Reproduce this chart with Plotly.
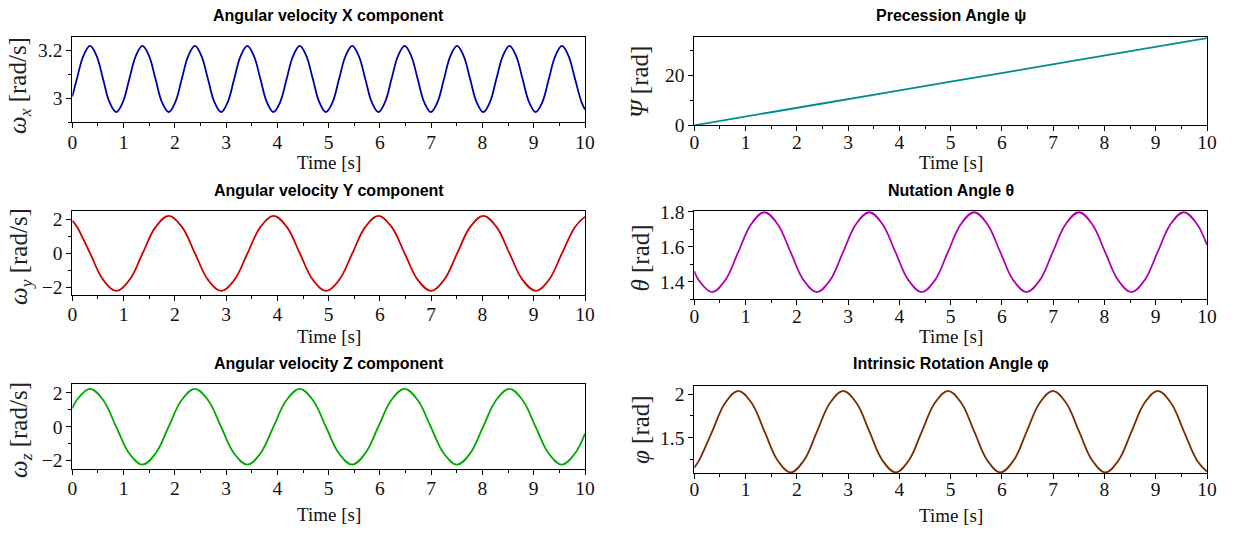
import plotly.graph_objects as go

# ---------------- data ----------------
T_WX = [0, 0.089, 0.217, 0.345, 0.473, 0.600, 0.728, 0.856, 0.984, 1.112, 1.240, 1.368, 1.496, 1.623,
        1.751, 1.879, 2.007, 2.135, 2.263, 2.391, 2.518, 2.646, 2.774, 2.902, 3.030, 3.157, 3.285,
        3.413, 3.541, 3.669, 3.797, 3.925, 4.052, 4.180, 4.308, 4.436, 4.564, 4.692, 4.820, 4.948,
        5.075, 5.203, 5.331, 5.459, 5.587, 5.715, 5.843, 5.970, 6.098, 6.226, 6.354, 6.482, 6.610,
        6.737, 6.865, 6.993, 7.121, 7.249, 7.376, 7.504, 7.632, 7.760, 7.888, 8.016, 8.144, 8.271,
        8.399, 8.527, 8.655, 8.783, 8.911, 9.039, 9.166, 9.294, 9.422, 9.550, 9.678, 9.806, 9.934, 10]
OMEGA_X = [3.007,
           3.080, 3.177, 3.218, 3.177, 3.080, 2.983, 2.943, 2.983,
           3.080, 3.177, 3.218, 3.177, 3.080, 2.983, 2.943, 2.983,
           3.080, 3.177, 3.218, 3.177, 3.080, 2.983, 2.943, 2.983,
           3.080, 3.177, 3.218, 3.177, 3.080, 2.983, 2.943, 2.983,
           3.080, 3.177, 3.218, 3.177, 3.080, 2.983, 2.943, 2.983,
           3.080, 3.177, 3.218, 3.177, 3.080, 2.983, 2.943, 2.983,
           3.080, 3.177, 3.218, 3.177, 3.080, 2.983, 2.943, 2.983,
           3.080, 3.177, 3.218, 3.177, 3.080, 2.983, 2.943, 2.983,
           3.080, 3.177, 3.218, 3.177, 3.080, 2.983, 2.943, 2.983,
           3.080, 3.177, 3.218, 3.177, 3.080, 2.983,
           2.953]

T_WY = [0, 0.093, 0.348, 0.604, 0.859, 1.115, 1.371, 1.626, 1.882, 2.138, 2.393, 2.649, 2.905, 3.160,
        3.416, 3.671, 3.927, 4.183, 4.438, 4.694, 4.950, 5.205, 5.461, 5.716, 5.972, 6.228, 6.483,
        6.739, 6.995, 7.250, 7.506, 7.762, 8.017, 8.273, 8.528, 8.784, 9.040, 9.295, 9.551, 9.806, 10]
OMEGA_Y = [1.92,
           1.549, 0.0, -1.549, -2.19, -1.549, 0.0, 1.549, 2.19,
           1.549, 0.0, -1.549, -2.19, -1.549, 0.0, 1.549, 2.19,
           1.549, 0.0, -1.549, -2.19, -1.549, 0.0, 1.549, 2.19,
           1.549, 0.0, -1.549, -2.19, -1.549, 0.0, 1.549, 2.19,
           1.549, 0.0, -1.549, -2.19, -1.549, 0.0, 1.549,
           2.15]
PHI = [1.155,
       1.238, 1.570, 1.902, 2.040, 1.902, 1.570, 1.238, 1.100,
       1.238, 1.570, 1.902, 2.040, 1.902, 1.570, 1.238, 1.100,
       1.238, 1.570, 1.902, 2.040, 1.902, 1.570, 1.238, 1.100,
       1.238, 1.570, 1.902, 2.040, 1.902, 1.570, 1.238, 1.100,
       1.238, 1.570, 1.902, 2.040, 1.902, 1.570, 1.238,
       1.108]

T_WZ = [0, 0.089, 0.345, 0.601, 0.856, 1.112, 1.368, 1.623, 1.879, 2.134, 2.390, 2.646, 2.901, 3.157,
        3.413, 3.668, 3.924, 4.179, 4.435, 4.691, 4.946, 5.202, 5.458, 5.713, 5.969, 6.224, 6.480,
        6.736, 6.991, 7.247, 7.503, 7.758, 8.014, 8.269, 8.525, 8.781, 9.036, 9.292, 9.548, 9.803, 10]
OMEGA_Z = [1.09, 1.584,
           2.24, 1.584, 0.0, -1.584, -2.24, -1.584, 0.0, 1.584,
           2.24, 1.584, 0.0, -1.584, -2.24, -1.584, 0.0, 1.584,
           2.24, 1.584, 0.0, -1.584, -2.24, -1.584, 0.0, 1.584,
           2.24, 1.584, 0.0, -1.584, -2.24, -1.584, 0.0, 1.584,
           2.24, 1.584, 0.0, -1.584, -2.24, -1.584,
           -0.40]
THETA = [1.460, 1.408,
         1.341, 1.408, 1.569, 1.730, 1.797, 1.730, 1.569, 1.408,
         1.341, 1.408, 1.569, 1.730, 1.797, 1.730, 1.569, 1.408,
         1.341, 1.408, 1.569, 1.730, 1.797, 1.730, 1.569, 1.408,
         1.341, 1.408, 1.569, 1.730, 1.797, 1.730, 1.569, 1.408,
         1.341, 1.408, 1.569, 1.730, 1.797, 1.730,
         1.610]

T_PSI = [0, 2.5, 5, 7.5, 10]
PSI = [0, 8.72, 17.45, 26.17, 34.9]

X_TICKS = [0, 1, 2, 3, 4, 5, 6, 7, 8, 9, 10]

# ---------------- styling / layout ----------------
W, H = 1233, 534
SERIF = "Liberation Serif, Times New Roman, serif"
SANS = "Liberation Sans, Arial, sans-serif"

def fx(px):
    return px / W

def fy(py):
    return 1 - py / H

LEFT = (72.3, 585.0)
RIGHT = (694.3, 1207.0)

panels = [
    dict(t=T_WX, y=OMEGA_X, color="#0000A8", title="Angular velocity X component",
         ylab="<i>ω</i><sub><i>x</i></sub> [rad/s]", yr=[2.90, 3.254], dt=0.2, mdt=0.1,
         col=LEFT, top=37.3, bot=122.3, ttl_y=16, xt_y=162, yt=(20, 86), so=-3),
    dict(t=T_PSI, y=PSI, color="#008C8C", title="Precession Angle ψ",
         ylab="<i>Ψ</i> [rad]", yr=[0, 35.2], dt=20, mdt=10,
         col=RIGHT, top=37.3, bot=125.3, ttl_y=16, xt_y=162, yt=(640, 82), so=-6),
    dict(t=T_WY, y=OMEGA_Y, color="#CC0000", title="Angular velocity Y component",
         ylab="<i>ω</i><sub><i>y</i></sub> [rad/s]", yr=[-2.43, 2.48], dt=2, mdt=1,
         col=LEFT, top=211, bot=295, ttl_y=190, xt_y=336, yt=(20, 257), so=-3),
    dict(t=T_WZ, y=THETA, color="#B000B0", title="Nutation Angle θ",
         ylab="<i>θ</i> [rad]", yr=[1.30, 1.804], dt=0.2, mdt=0.1,
         col=RIGHT, top=211, bot=299.3, ttl_y=190, xt_y=336, yt=(640, 258.5), so=-6),
    dict(t=T_WZ, y=OMEGA_Z, color="#00AA00", title="Angular velocity Z component",
         ylab="<i>ω</i><sub><i>z</i></sub> [rad/s]", yr=[-2.50, 2.51], dt=2, mdt=1,
         col=LEFT, top=384.3, bot=469, ttl_y=363, xt_y=514, yt=(20, 430), so=-3),
    dict(t=T_WY, y=PHI, color="#7A2E00", title="Intrinsic Rotation Angle φ",
         ylab="<i>φ</i> [rad]", yr=[1.093, 2.099], dt=0.5, mdt=0.25,
         col=RIGHT, top=385.7, bot=473, ttl_y=363, xt_y=515, yt=(640, 430), so=-6),
]

fig = go.Figure()
annotations = []
layout_axes = {}

for i, p in enumerate(panels, start=1):
    xa = "x" if i == 1 else f"x{i}"
    ya = "y" if i == 1 else f"y{i}"
    fig.add_trace(go.Scatter(x=p["t"], y=p["y"], mode="lines", xaxis=xa, yaxis=ya,
                             line=dict(color=p["color"], width=1.8, shape="spline", smoothing=1.1),
                             showlegend=False, hoverinfo="skip"))
    xkey = "xaxis" if i == 1 else f"xaxis{i}"
    ykey = "yaxis" if i == 1 else f"yaxis{i}"
    common = dict(showline=True, linecolor="black", linewidth=1, mirror=True, automargin=False,
                  showgrid=False, zeroline=False, ticks="outside", ticklen=5,
                  tickcolor="black", tickwidth=1,
                  tickfont=dict(family=SERIF, size=19.5, color="#111"))
    layout_axes[xkey] = dict(common, domain=[fx(p["col"][0]), fx(p["col"][1])],
                             anchor=ya, range=[0, 10], tickvals=X_TICKS, ticklabelstandoff=p["so"],
                             minor=dict(ticks="outside", ticklen=3, dtick=0.5, tick0=0,
                                        tickcolor="black"))
    layout_axes[ykey] = dict(common, domain=[fy(p["bot"]), fy(p["top"])],
                             anchor=xa, range=p["yr"], dtick=p["dt"], tick0=0,
                             minor=dict(ticks="outside", ticklen=3, dtick=p["mdt"], tick0=0,
                                        tickcolor="black"))
    cx = (p["col"][0] + p["col"][1]) / 2
    annotations.append(dict(text="<b>" + p["title"] + "</b>", xref="paper", yref="paper",
                            x=fx(cx), y=fy(p["ttl_y"]),
                            xanchor="center", yanchor="middle", showarrow=False,
                            font=dict(family=SANS, size=16, color="black")))
    annotations.append(dict(text="Time [s]", xref="paper", yref="paper", x=fx(cx), y=fy(p["xt_y"]),
                            xanchor="center", yanchor="middle", showarrow=False,
                            font=dict(family=SERIF, size=19, color="#111")))
    annotations.append(dict(text=p["ylab"], xref="paper", yref="paper", x=fx(p["yt"][0]),
                            y=fy(p["yt"][1]), xanchor="center", yanchor="middle", textangle=-90,
                            showarrow=False, font=dict(family=SERIF, size=25, color="#222")))

fig.update_layout(width=W, height=H, margin=dict(l=0, r=0, t=0, b=0, autoexpand=False),
                  paper_bgcolor="white", plot_bgcolor="white", template="none",
                  annotations=annotations, showlegend=False, **layout_axes)

fig.write_html("out.html", config={"displayModeBar": False, "staticPlot": True},
               post_script="document.body.style.margin='0';document.body.style.overflow='hidden';")
